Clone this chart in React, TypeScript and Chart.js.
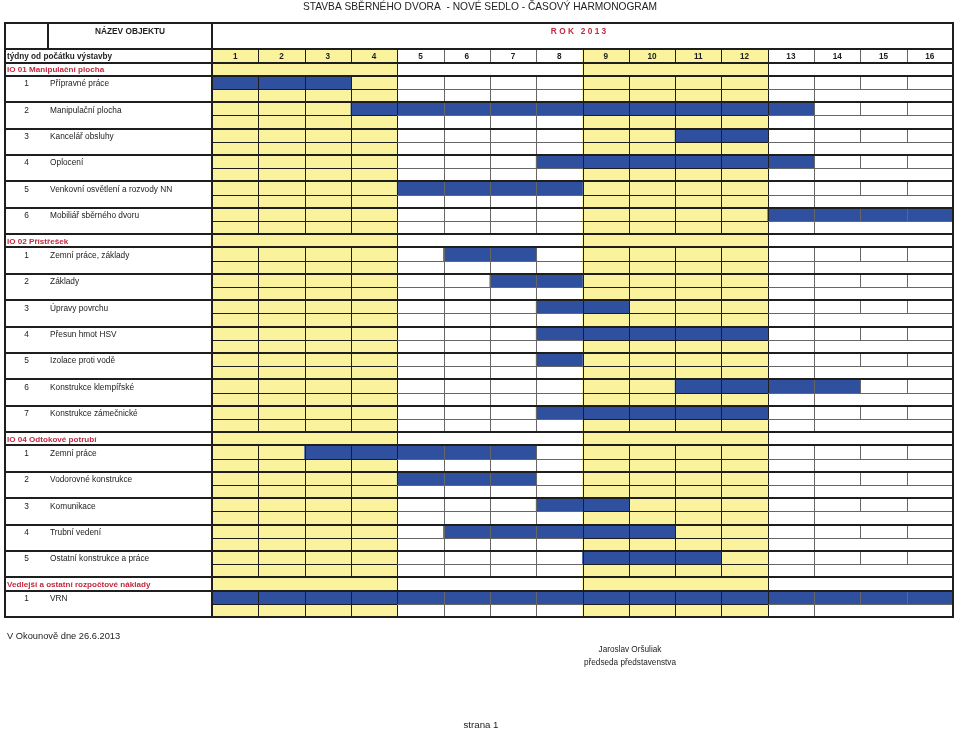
import React, { useEffect, useRef } from 'react';
import { Chart, registerables } from 'chart.js';

Chart.register(...registerables);

// ---------- data ----------
const TITLE = 'STAVBA SBĚRNÉHO DVORA  - NOVÉ SEDLO - ČASOVÝ HARMONOGRAM';
const HEADER_NAME = 'NÁZEV OBJEKTU';
const HEADER_YEAR = 'R O K   2 0 1 3';
const WEEKS_CAPTION = 'týdny od počátku výstavby';
const WEEK_LABELS = ['1', '2', '3', '4', '5', '6', '7', '8', '9', '10', '11', '12', '13', '14', '15', '16'];
const YELLOW_FROM = [1, 9];
const YELLOW_TO = [4, 12];

const GROUP_NAMES = [
  'IO 01 Manipulační plocha',
  'IO 02 Přístřešek',
  'IO 04 Odtokové potrubí',
  'Vedlejší a ostatní rozpočtové náklady',
];

const IO01_TASKS = [
  'Přípravné práce',
  'Manipulační plocha',
  'Kancelář obsluhy',
  'Oplocení',
  'Venkovní osvětlení a rozvody NN',
  'Mobiliář sběrného dvoru',
];
const IO01_START = [1, 4, 11, 8, 5, 13];
const IO01_END = [3, 13, 12, 13, 8, 16];

const IO02_TASKS = [
  'Zemní práce, základy',
  'Základy',
  'Úpravy povrchu',
  'Přesun hmot HSV',
  'Izolace proti vodě',
  'Konstrukce klempířské',
  'Konstrukce zámečnické',
];
const IO02_START = [6, 7, 8, 8, 8, 11, 8];
const IO02_END = [7, 8, 9, 12, 8, 14, 12];

const IO04_TASKS = [
  'Zemní práce',
  'Vodorovné konstrukce',
  'Komunikace',
  'Trubní vedení',
  'Ostatní konstrukce a práce',
];
const IO04_START = [3, 5, 8, 6, 9];
const IO04_END = [7, 7, 9, 10, 11];

const VRN_TASKS = ['VRN'];
const VRN_START = [1];
const VRN_END = [16];

const FOOTER_PLACE = 'V Okounově dne 26.6.2013';
const SIGN_NAME = 'Jaroslav Oršuliak';
const SIGN_ROLE = 'předseda představenstva';
const PAGE_LABEL = 'strana 1';

// ---------- layout constants ----------
const NAME_W = 4.47; // name column width in week units
const NUM_W = 0.93; // number sub-column width in week units
const FONT = '"Liberation Sans", Arial, sans-serif';
const BLUE = '#2f4f9f';
const YELLOW = '#faf29c';
const RED = '#c3283f';
const DARK = '#1e1e1e';
const GRAY = '#666666';

type Row = { kind: 'head' | 'weeks' | 'group' | 'top' | 'bottom'; text?: string; num?: number; start?: number; end?: number };

function buildRows(): Row[] {
  const groups = [
    { tasks: IO01_TASKS, s: IO01_START, e: IO01_END },
    { tasks: IO02_TASKS, s: IO02_START, e: IO02_END },
    { tasks: IO04_TASKS, s: IO04_START, e: IO04_END },
    { tasks: VRN_TASKS, s: VRN_START, e: VRN_END },
  ];
  const rows: Row[] = [{ kind: 'head' }, { kind: 'head' }, { kind: 'weeks' }];
  groups.forEach((g, gi) => {
    rows.push({ kind: 'group', text: GROUP_NAMES[gi] });
    g.tasks.forEach((t, ti) => {
      rows.push({ kind: 'top', text: t, num: ti + 1, start: g.s[ti], end: g.e[ti] });
      rows.push({ kind: 'bottom' });
    });
  });
  return rows;
}

const ROWS = buildRows();
const LABELS = ROWS.map((_, i) => 'r' + i);

const isYellowCol = (c: number) => YELLOW_FROM.some((f, i) => c >= f && c <= YELLOW_TO[i]); // c: 1-based week

const gridPlugin = {
  id: 'gridPlugin',
  afterDatasetsDraw(chart: any) {
    const { ctx, chartArea, scales } = chart;
    const x = scales.x;
    const y = scales.y;
    const L = chartArea.left;
    const R = chartArea.right;
    const T = chartArea.top;
    const B = chartArea.bottom;
    const xp = (v: number) => x.getPixelForValue(v);
    const rTop = (i: number) => Math.min(y.getPixelForValue(i - 0.5), y.getPixelForValue(i + 0.5));
    const rBot = (i: number) => Math.max(y.getPixelForValue(i - 0.5), y.getPixelForValue(i + 0.5));
    const rMid = (i: number) => y.getPixelForValue(i);

    ctx.save();
    const vline = (px: number, y0: number, y1: number, color: string, w = 1) => {
      ctx.strokeStyle = color;
      ctx.lineWidth = w;
      const xx = w % 2 === 1 ? Math.round(px) + 0.5 : Math.round(px);
      ctx.beginPath();
      ctx.moveTo(xx, Math.round(y0));
      ctx.lineTo(xx, Math.round(y1));
      ctx.stroke();
    };
    const hline = (py: number, x0: number, x1: number, color: string, w = 1) => {
      ctx.strokeStyle = color;
      ctx.lineWidth = w;
      const yy = w % 2 === 1 ? Math.round(py) + 0.5 : Math.round(py);
      ctx.beginPath();
      ctx.moveTo(Math.round(x0), yy);
      ctx.lineTo(Math.round(x1), yy);
      ctx.stroke();
    };

    // vertical column lines per row
    ROWS.forEach((r, i) => {
      const y0 = rTop(i);
      const y1 = rBot(i);
      for (let k = 1; k <= 15; k++) {
        const yl = isYellowCol(k) || isYellowCol(k + 1);
        const boundary = isYellowCol(k) !== isYellowCol(k + 1);
        let draw = false;
        if (r.kind === 'weeks' || r.kind === 'top') draw = true;
        else if (r.kind === 'bottom') draw = k <= 13;
        else if (r.kind === 'group') draw = boundary;
        if (draw) vline(xp(k), y0, y1, yl ? DARK : GRAY, 1);
      }
    });

    // thin horizontal lines between task halves
    ROWS.forEach((r, i) => {
      if (r.kind !== 'bottom') return;
      const py = rTop(i);
      for (let c = 1; c <= 16; c++) {
        hline(py, xp(c - 1), xp(c), isYellowCol(c) ? DARK : GRAY, 1);
      }
    });

    // thick horizontal lines
    ROWS.forEach((r, i) => {
      if (i <= 1 || r.kind === 'bottom') return;
      hline(rTop(i), L, R, DARK, 2);
    });

    // number divider in header
    vline(xp(-NAME_W + NUM_W), rTop(0), rBot(1), DARK, 2);
    // name column boundary
    vline(xp(0), T, B, DARK, 2);
    // outer border
    ctx.strokeStyle = DARK;
    ctx.lineWidth = 2;
    ctx.strokeRect(Math.round(L), Math.round(T), Math.round(R) - Math.round(L), Math.round(B) - Math.round(T));

    // texts
    ctx.textBaseline = 'middle';
    const headY = rTop(0) + 8.5;
    ctx.font = `bold 8.3px ${FONT}`;
    ctx.fillStyle = DARK;
    ctx.textAlign = 'center';
    ctx.fillText(HEADER_NAME, (xp(-NAME_W + NUM_W) + xp(0)) / 2, headY);
    ctx.fillStyle = RED;
    ctx.fillText(HEADER_YEAR, (xp(0) + xp(16)) / 2 - 4, headY);

    ROWS.forEach((r, i) => {
      const cy = rMid(i) + 0.5;
      if (r.kind === 'weeks') {
        ctx.font = `bold 8.2px ${FONT}`;
        ctx.fillStyle = DARK;
        ctx.textAlign = 'left';
        ctx.fillText(WEEKS_CAPTION, L + 2, cy);
        ctx.textAlign = 'center';
        WEEK_LABELS.forEach((w, k) => ctx.fillText(w, (xp(k) + xp(k + 1)) / 2, cy));
      } else if (r.kind === 'group') {
        ctx.font = `bold 8.1px ${FONT}`;
        ctx.fillStyle = RED;
        ctx.textAlign = 'left';
        ctx.fillText(r.text, L + 2, cy);
      } else if (r.kind === 'top') {
        ctx.font = `8.3px ${FONT}`;
        ctx.fillStyle = '#222';
        ctx.textAlign = 'center';
        ctx.fillText(String(r.num), (xp(-NAME_W) + xp(-NAME_W + NUM_W)) / 2, cy + 1);
        ctx.textAlign = 'left';
        ctx.fillText(r.text, xp(-NAME_W + NUM_W) + 2, cy + 1);
      }
    });

    // page texts
    const W = chart.width;
    ctx.fillStyle = '#222';
    ctx.textAlign = 'center';
    ctx.font = `10.2px ${FONT}`;
    ctx.fillText(TITLE, W / 2, 7.5);
    ctx.textAlign = 'left';
    ctx.font = `9.3px ${FONT}`;
    ctx.fillText(FOOTER_PLACE, 7, 636.5);
    ctx.textAlign = 'center';
    ctx.font = `8.2px ${FONT}`;
    ctx.fillText(SIGN_NAME, 630, 649.5);
    ctx.fillText(SIGN_ROLE, 630, 662.5);
    ctx.font = `9.7px ${FONT}`;
    ctx.fillText(PAGE_LABEL, 481, 725);
    ctx.restore();
  },
};

export default function App() {
  const ref = useRef<HTMLCanvasElement | null>(null);
  useEffect(() => {
    if (!ref.current) return;
    const blueData = ROWS.map((r, i) => (r.kind === 'top' ? { x: [r.start! - 1, r.end!], y: LABELS[i] } : null)).filter(Boolean);
    const yellowSets = YELLOW_FROM.map((f, yi) => ({
      label: 'yellow' + yi,
      data: ROWS.map((r, i) => (i >= 2 ? { x: [f - 1, YELLOW_TO[yi]], y: LABELS[i] } : null)).filter(Boolean),
      backgroundColor: YELLOW,
      order: 2,
    }));
    const chart = new Chart(ref.current, {
      type: 'bar',
      data: {
        labels: LABELS,
        datasets: [
          { label: 'tasks', data: blueData as any, backgroundColor: BLUE, order: 1 },
          ...(yellowSets as any),
        ].map((d: any) => ({ ...d, grouped: false, barPercentage: 1, categoryPercentage: 1, borderWidth: 0, borderSkipped: false })),
      },
      options: {
        indexAxis: 'y',
        animation: false,
        responsive: true,
        maintainAspectRatio: false,
        devicePixelRatio: 1,
        layout: { padding: { left: 5, right: 7, top: 23, bottom: 112 } },
        plugins: { legend: { display: false }, tooltip: { enabled: false }, title: { display: false } },
        scales: {
          x: { type: 'linear', min: -NAME_W, max: 16, display: false },
          y: { type: 'category', display: false, offset: true },
        },
      },
      plugins: [gridPlugin],
    });
    return () => chart.destroy();
  }, []);
  return (
    <div style={{ position: 'fixed', left: 0, top: 0, width: 960, height: 729, background: '#fff' }}>
      <canvas ref={ref} />
    </div>
  );
}
